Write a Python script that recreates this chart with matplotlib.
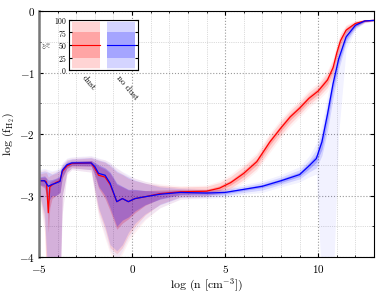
import matplotlib
matplotlib.use("Agg")
import matplotlib.pyplot as plt
import numpy as np
from matplotlib.ticker import MultipleLocator

plt.rcParams["font.family"] = "serif"
plt.rcParams["font.serif"] = ["cmr10", "DejaVu Serif"]
plt.rcParams["mathtext.fontset"] = "cm"
plt.rcParams["axes.formatter.use_mathtext"] = True

# "dust" run: log n, median and percentile bands of log f_H2
x_dust = [-5.0, -4.7, -4.6, -4.5, -4.42, -4.3, -4.1, -3.87, -3.75, -3.5, -3.24,
          -2.2, -2.0, -1.8, -1.45, -1.18, -0.82, -0.52, -0.2, 0.16, 0.7, 1.5,
          2.6, 4.0, 4.7, 5.3, 6.0, 6.7, 7.4, 8.0, 8.5, 9.0, 9.5, 10.0, 10.5,
          10.8, 11.0, 11.2, 11.5, 12.0, 12.5, 13.0]
med_dust = [-2.76, -2.76, -2.78, -3.28, -2.86, -2.83, -2.79, -2.76, -2.61, -2.52, -2.48,
            -2.47, -2.56, -2.67, -2.70, -2.82, -3.10, -3.05, -3.10, -3.05, -3.02, -2.97,
            -2.94, -2.93, -2.88, -2.79, -2.64, -2.45, -2.13, -1.90, -1.72, -1.58, -1.42, -1.30, -1.12,
            -0.92, -0.68, -0.48, -0.31, -0.20, -0.16, -0.15]
p01_dust = [-3.0, -3.6, -4.5, -4.5, -4.5, -4.5, -4.5, -4.5, -3.3, -2.66, -2.58,
            -2.62, -3.0, -3.35, -3.7, -3.95, -4.1, -3.95, -3.75, -3.6, -3.4, -3.2,
            -3.06, -3.03, -2.99, -2.92, -2.78, -2.60, -2.30, -2.06, -1.88, -1.73, -1.57, -1.45, -1.30,
            -1.10, -0.88, -0.66, -0.44, -0.27, -0.19, -0.165]
p99_dust = [-2.6, -2.58, -2.58, -2.62, -2.62, -2.61, -2.60, -2.56, -2.48, -2.40, -2.38,
            -2.36, -2.38, -2.40, -2.42, -2.47, -2.56, -2.62, -2.68, -2.72, -2.77, -2.81,
            -2.84, -2.83, -2.76, -2.65, -2.49, -2.30, -1.98, -1.75, -1.58, -1.44, -1.28, -1.16, -0.96,
            -0.76, -0.52, -0.35, -0.22, -0.15, -0.135, -0.135]
p05_dust = [-2.95, -3.4, -4.5, -4.5, -4.5, -4.5, -4.5, -4.5, -3.0, -2.62, -2.55,
            -2.58, -2.92, -3.25, -3.55, -3.85, -3.95, -3.85, -3.65, -3.5, -3.32, -3.14,
            -3.02, -3.0, -2.96, -2.88, -2.74, -2.56, -2.25, -2.01, -1.83, -1.68, -1.52, -1.40, -1.24,
            -1.05, -0.82, -0.60, -0.40, -0.25, -0.18, -0.16]
p95_dust = [-2.65, -2.63, -2.63, -2.70, -2.68, -2.66, -2.64, -2.60, -2.52, -2.44, -2.41,
            -2.39, -2.41, -2.43, -2.46, -2.52, -2.62, -2.66, -2.72, -2.76, -2.80, -2.84,
            -2.86, -2.85, -2.79, -2.69, -2.53, -2.34, -2.02, -1.79, -1.62, -1.48, -1.32, -1.20, -1.00,
            -0.80, -0.56, -0.38, -0.24, -0.16, -0.14, -0.14]
p25_dust = [-2.82, -2.88, -3.0, -3.6, -3.2, -3.05, -3.0, -2.95, -2.72, -2.56, -2.52,
            -2.52, -2.68, -2.88, -3.05, -3.25, -3.55, -3.45, -3.38, -3.28, -3.16, -3.05,
            -2.98, -2.96, -2.92, -2.83, -2.69, -2.50, -2.18, -1.95, -1.77, -1.63, -1.47, -1.35, -1.18,
            -0.98, -0.75, -0.54, -0.35, -0.22, -0.17, -0.155]
p75_dust = [-2.71, -2.70, -2.72, -2.95, -2.78, -2.76, -2.73, -2.70, -2.56, -2.48, -2.45,
            -2.43, -2.48, -2.52, -2.57, -2.64, -2.82, -2.86, -2.91, -2.91, -2.92, -2.91,
            -2.90, -2.90, -2.84, -2.75, -2.59, -2.40, -2.08, -1.85, -1.67, -1.53, -1.37, -1.25, -1.06,
            -0.86, -0.62, -0.43, -0.27, -0.18, -0.15, -0.145]

# "no dust" run
x_nodust = [-5.0, -4.7, -4.5, -4.3, -4.1, -3.87, -3.75, -3.5, -3.24, -2.2, -2.0,
            -1.8, -1.45, -1.18, -0.82, -0.52, -0.2, 0.16, 0.7, 1.5, 2.6, 4.0,
            5.0, 6.0, 7.0, 8.0, 9.0, 9.5, 9.9, 10.2, 10.5, 10.8, 11.1, 11.5,
            12.0, 12.5, 13.0]
med_nodust = [-2.76, -2.76, -2.85, -2.82, -2.80, -2.77, -2.59, -2.50, -2.47, -2.47, -2.53,
              -2.64, -2.67, -2.80, -3.10, -3.05, -3.10, -3.05, -3.02, -2.98, -2.95, -2.96,
              -2.95, -2.90, -2.85, -2.76, -2.66, -2.52, -2.40, -2.13, -1.68, -1.18, -0.78, -0.42,
              -0.23, -0.16, -0.15]
p01_nodust = [-3.0, -3.5, -4.5, -4.5, -4.5, -4.5, -3.3, -2.66, -2.58, -2.62, -2.98,
              -3.3, -3.65, -3.9, -4.05, -3.9, -3.7, -3.55, -3.38, -3.2, -3.06, -3.05,
              -3.03, -2.98, -2.95, -2.86, -2.78, -2.70, -2.65, -4.5, -4.5, -4.5, -2.0, -0.62,
              -0.30, -0.19, -0.165]
p99_nodust = [-2.58, -2.56, -2.58, -2.60, -2.58, -2.54, -2.46, -2.39, -2.37, -2.35, -2.37,
              -2.39, -2.42, -2.46, -2.55, -2.61, -2.66, -2.72, -2.77, -2.83, -2.87, -2.89,
              -2.88, -2.82, -2.76, -2.66, -2.53, -2.36, -2.15, -1.82, -1.38, -0.92, -0.58, -0.29,
              -0.17, -0.135, -0.135]
p05_nodust = [-2.95, -3.3, -4.5, -4.5, -4.5, -4.5, -3.0, -2.62, -2.55, -2.58, -2.90,
              -3.2, -3.5, -3.8, -3.9, -3.8, -3.6, -3.45, -3.3, -3.15, -3.03, -3.02,
              -3.0, -2.95, -2.91, -2.82, -2.73, -2.62, -2.55, -2.35, -1.95, -1.42, -0.95, -0.52,
              -0.28, -0.18, -0.16]
p95_nodust = [-2.62, -2.60, -2.62, -2.65, -2.62, -2.58, -2.50, -2.42, -2.40, -2.38, -2.40,
              -2.42, -2.45, -2.50, -2.60, -2.65, -2.70, -2.75, -2.80, -2.86, -2.89, -2.91,
              -2.90, -2.85, -2.79, -2.70, -2.58, -2.43, -2.25, -1.95, -1.50, -1.02, -0.65, -0.33,
              -0.19, -0.14, -0.14]
p25_nodust = [-2.82, -2.85, -3.1, -3.0, -3.0, -2.95, -2.70, -2.55, -2.51, -2.52, -2.65,
              -2.85, -3.0, -3.2, -3.5, -3.4, -3.35, -3.25, -3.15, -3.06, -2.99, -2.99,
              -2.97, -2.92, -2.87, -2.79, -2.69, -2.57, -2.46, -2.25, -1.80, -1.28, -0.86, -0.47,
              -0.25, -0.17, -0.155]
p75_nodust = [-2.70, -2.68, -2.75, -2.74, -2.72, -2.68, -2.54, -2.46, -2.44, -2.43, -2.46,
              -2.50, -2.55, -2.62, -2.80, -2.85, -2.90, -2.90, -2.92, -2.93, -2.92, -2.93,
              -2.93, -2.88, -2.82, -2.73, -2.62, -2.47, -2.33, -2.03, -1.58, -1.10, -0.72, -0.38,
              -0.21, -0.15, -0.145]

# percentile levels shown in the legend inset
levels = [(1, 99), (5, 95), (25, 75)]
runs = ["dust", "no dust"]
colors = ["#ff0000", "#0000ff"]

fig = plt.figure(figsize=(3.9, 2.93), dpi=100)
ax = fig.add_axes([0.1, 0.123, 0.859, 0.839])

series = [
    (x_dust, med_dust, [(p01_dust, p99_dust), (p05_dust, p95_dust), (p25_dust, p75_dust)]),
    (x_nodust, med_nodust, [(p01_nodust, p99_nodust), (p05_nodust, p95_nodust), (p25_nodust, p75_nodust)]),
]
alphas = [0.05, 0.12, 0.22]

for (x, med, bands), c in zip(series, colors):
    for (lo, hi), a in zip(bands, alphas):
        ax.fill_between(x, lo, hi, color=c, alpha=a, lw=0)
for (x, med, bands), c in zip(series, colors):
    ax.plot(x, med, color=c, lw=0.9)

ax.set_xlim(-5, 13)
ax.set_ylim(-4, 0)
ax.xaxis.set_major_locator(MultipleLocator(5))
ax.xaxis.set_minor_locator(MultipleLocator(1))
ax.yaxis.set_major_locator(MultipleLocator(1))
ax.yaxis.set_minor_locator(MultipleLocator(0.5))
ax.grid(which="major", color="#999999", ls=":", lw=0.8)
ax.grid(which="minor", color="#bbbbbb", ls=":", lw=0.5)
ax.set_axisbelow(True)
ax.tick_params(which="both", direction="in", top=True, right=True, labelsize=8)
ax.tick_params(which="major", length=3)
ax.tick_params(which="minor", length=1.5)
ax.tick_params(axis="x", pad=4)
ax.tick_params(axis="y", pad=3)
ax.spines["left"].set_color("#777777")
ax.spines["left"].set_linewidth(1.8)
for s in ["top", "right", "bottom"]:
    ax.spines[s].set_linewidth(0.8)
ax.set_xlabel(r"log (n [cm$^{-3}$])", fontsize=8.5, labelpad=2)
ax.set_ylabel(r"log (f$_{\rm H_2}$)", fontsize=8.5, labelpad=2)

# legend inset with percentile shading
ins = fig.add_axes([0.177, 0.761, 0.177, 0.171])
for i, c in enumerate(colors):
    for (lo, hi), a in zip(levels, alphas):
        ins.bar(i, hi - lo, bottom=lo, width=0.82, color=c, alpha=a, lw=0)
    ins.plot([i - 0.41, i + 0.41], [50, 50], color=c, lw=0.8)
ins.set_xlim(-0.5, 1.5)
ins.set_ylim(0, 100)
ins.set_yticks([0, 25, 50, 75, 100])
ins.set_xticks([0, 1])
ins.set_xticklabels(runs, rotation=-50, ha="left", rotation_mode="anchor", fontsize=6.5)
ins.tick_params(axis="y", direction="in", right=True, labelsize=5.5, length=2, pad=1.5)
ins.tick_params(axis="x", length=0, pad=3)
ins.set_ylabel("%", fontsize=5.5, labelpad=1)
for s in ins.spines.values():
    s.set_linewidth(0.8)

fig.savefig("out.png", dpi=100)
